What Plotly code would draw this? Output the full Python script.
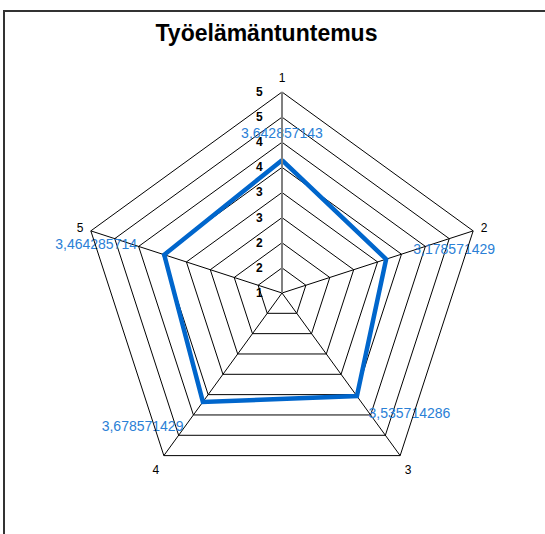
import plotly.graph_objects as go

# ---- data ----
categories = ["1", "2", "3", "4", "5"]
values = [3.642857143, 3.178571429, 3.535714286, 3.678571429, 3.464285714]
radial_tickvals = [1, 1.5, 2, 2.5, 3, 3.5, 4, 4.5, 5]
radial_ticktext = ["1", "2", "2", "3", "3", "4", "4", "5", "5"]
title_text = "Työelämäntuntemus"

W, H = 545, 534
NB = "\u00a0"

labels = [f"{v:.9f}".replace(".", ",") for v in values]
label_text = [
    labels[0] + "<br>" + NB,
    NB * 7 + labels[1] + "<br>" + NB,
    NB + "<br>" + NB + "<br>" + NB * 3 + labels[2],
    NB + "<br>" + labels[3] + NB * 5,
    labels[4] + NB * 7 + "<br>" + NB,
]
label_pos = ["top center", "middle right", "middle right", "bottom left", "middle left"]

r_closed = values + [values[0]]
theta_closed = categories + [categories[0]]
text_closed = label_text + [""]
pos_closed = label_pos + ["top center"]

fig = go.Figure()
fig.add_trace(go.Scatterpolar(
    r=r_closed, theta=theta_closed,
    mode="lines+text",
    line=dict(color="#0066CC", width=4.5),
    text=text_closed,
    textposition=pos_closed,
    textfont=dict(family="Liberation Sans, Arial, sans-serif", size=14, color="#2A80D6"),
    hoverinfo="skip",
    cliponaxis=False,
    showlegend=False,
))

cx, cy, R = 282, 293, 201
fig.update_layout(
    width=W, height=H,
    margin=dict(l=0, r=0, t=0, b=0),
    paper_bgcolor="white",
    plot_bgcolor="white",
    font=dict(family="Liberation Sans, Arial, sans-serif", color="black"),
    title=dict(text=f"<b>{title_text}</b>", x=266.5 / W, xanchor="center",
               y=1 - 33 / H, yanchor="middle",
               font=dict(size=23, color="black", family="Liberation Sans, Arial, sans-serif")),
    polar=dict(
        domain=dict(x=[(cx - R) / W, (cx + R) / W], y=[1 - (cy + R) / H, 1 - (cy - R) / H]),
        gridshape="linear",
        bgcolor="white",
        radialaxis=dict(
            range=[1, 5], tickvals=radial_tickvals, ticktext=radial_ticktext,
            angle=90, tickangle=90, side="counterclockwise",
            showline=True, linecolor="#808080", linewidth=2,
            gridcolor="black", gridwidth=1,
            ticks="outside", ticklen=14, tickcolor="rgba(0,0,0,0)",
            tickfont=dict(size=12, color="black", weight="bold"),
            showgrid=True,
        ),
        angularaxis=dict(
            categoryorder="array", categoryarray=categories,
            rotation=90, direction="clockwise",
            showline=True, linecolor="black", linewidth=1,
            gridcolor="black", gridwidth=1,
            ticks="outside", ticklen=5, tickcolor="rgba(0,0,0,0)",
            tickfont=dict(size=12, color="black"),
        ),
    ),
    shapes=[dict(type="path", xref="paper", yref="paper",
                 path=f"M {4/W},{-0.05} L {4/W},{1-11/H} L {1.05},{1-11/H}",
                 line=dict(color="#333333", width=2))],
)

fig.write_html("out.html", config={"displayModeBar": False},
               post_script="document.body.style.margin='0';")
